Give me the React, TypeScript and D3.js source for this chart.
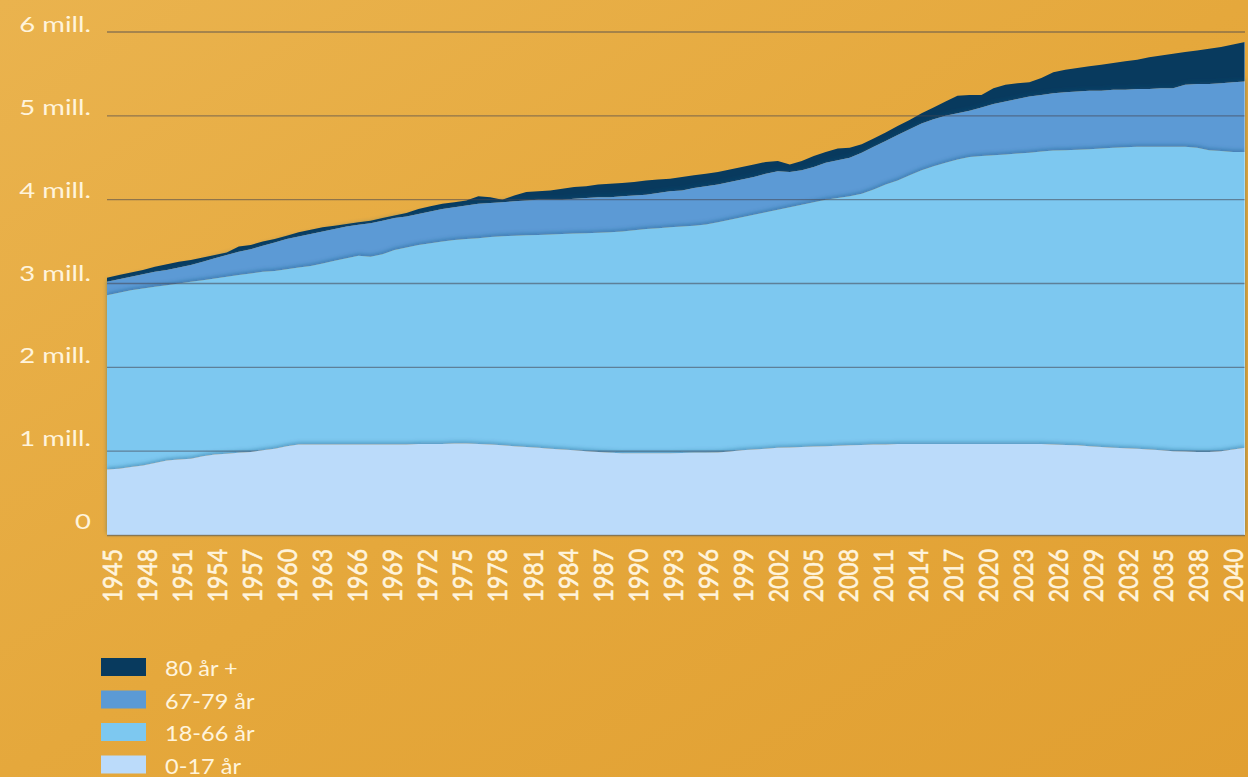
import React from "react";
import * as d3 from "d3";

// Years 1945–2040 (categories)
const years: number[] = d3.range(1945, 2041);

// Population by age group, thousands
const age0_17 = [
  780, 790, 810, 830, 860, 890, 900, 910, 940, 960,
  970, 980, 990, 1010, 1030, 1060, 1080, 1080, 1080, 1080,
  1080, 1080, 1080, 1080, 1080, 1080, 1085, 1085, 1085, 1090,
  1090, 1085, 1080, 1070, 1060, 1050, 1040, 1030, 1020, 1010,
  1000, 990, 980, 975, 975, 975, 975, 975, 978, 980,
  980, 985, 995, 1010, 1020, 1030, 1040, 1045, 1050, 1055,
  1060, 1065, 1070, 1075, 1080, 1080, 1085, 1085, 1085, 1085,
  1085, 1085, 1085, 1085, 1085, 1085, 1085, 1085, 1085, 1080,
  1075, 1070, 1060, 1050, 1040, 1035, 1030, 1020, 1010, 1000,
  995, 990, 990, 1000, 1020, 1040,
];
const age18_66 = [
  2080, 2100, 2110, 2110, 2100, 2090, 2100, 2110, 2100, 2100,
  2110, 2120, 2130, 2130, 2120, 2110, 2110, 2130, 2160, 2190,
  2220, 2250, 2240, 2270, 2320, 2350, 2375, 2395, 2415, 2430,
  2440, 2455, 2475, 2495, 2510, 2525, 2540, 2555, 2570, 2585,
  2600, 2615, 2630, 2645, 2660, 2675, 2685, 2695, 2702, 2710,
  2725, 2745, 2765, 2780, 2800, 2820, 2840, 2865, 2890, 2915,
  2940, 2955, 2970, 2995, 3040, 3100, 3145, 3205, 3265, 3315,
  3355, 3395, 3425, 3435, 3445, 3455, 3465, 3475, 3490, 3505,
  3515, 3525, 3540, 3560, 3580, 3590, 3600, 3610, 3620, 3630,
  3635, 3630, 3600, 3580, 3550, 3530,
];
const age67_79 = [
  160, 160, 160, 170, 180, 180, 190, 200, 220, 240,
  260, 280, 290, 310, 340, 360, 370, 380, 380, 380,
  380, 370, 400, 400, 380, 370, 370, 380, 390, 390,
  400, 410, 405, 405, 410, 415, 420, 415, 410, 415,
  420, 425, 420, 420, 415, 410, 420, 430, 430, 450,
  455, 450, 450, 450, 450, 460, 460, 420, 410, 420,
  440, 450, 460, 490, 510, 520, 540, 550, 560, 560,
  560, 550, 550, 580, 610, 630, 650, 670, 675, 685,
  690, 695, 700, 690, 690, 685, 690, 690, 700, 700,
  740, 760, 790, 810, 830, 840,
];
const age80plus = [
  50, 50, 50, 50, 60, 70, 70, 60, 50, 40,
  30, 60, 50, 50, 40, 40, 50, 50, 50, 40,
  30, 30, 30, 30, 30, 40, 60, 60, 60, 60,
  60, 90, 70, 30, 70, 100, 100, 110, 130, 140,
  140, 150, 160, 160, 160, 170, 160, 150, 160, 150,
  150, 150, 150, 150, 150, 140, 120, 90, 110, 130,
  130, 140, 120, 100, 100, 100, 110, 110, 120, 140,
  170, 210, 190, 150, 190, 200, 190, 170, 200, 250,
  270, 280, 290, 310, 320, 340, 350, 380, 390, 410,
  390, 400, 420, 430, 450, 470,
];

const seriesKeys = ["age0_17", "age18_66", "age67_79", "age80plus"];
const seriesNames = ["0-17 år", "18-66 år", "67-79 år", "80 år +"];
const seriesColors = ["#BBDBFA", "#7DC8F0", "#5B9AD5", "#083A5E"];

const yTicks = [0, 1000, 2000, 3000, 4000, 5000, 6000];
const yTickLabels = ["0", "1 mill.", "2 mill.", "3 mill.", "4 mill.", "5 mill.", "6 mill."];

const xTickLabels = [
  "1945", "1948", "1951", "1954", "1957", "1960", "1963", "1966", "1969",
  "1972", "1975", "1978", "1981", "1984", "1987", "1990", "1993", "1996",
  "1999", "2002", "2005", "2008", "2011", "2014", "2017", "2020", "2023",
  "2026", "2029", "2032", "2035", "2038", "2040",
];

export default function App() {
  const W = 1248;
  const H = 777;
  const x = d3.scaleLinear().domain([1945, 2040]).range([107, 1245]);
  const y = d3.scaleLinear().domain([0, 6000]).range([535, 32]);
  const yLab = d3.scaleLinear().domain([0, 6000]).range([529, 32]);
  const xLab = d3.scalePoint<string>().domain(xTickLabels).range([112, 1233]);

  const table = years.map((yr, i) => ({
    year: yr,
    age0_17: age0_17[i],
    age18_66: age18_66[i],
    age67_79: age67_79[i],
    age80plus: age80plus[i],
  }));
  const stacked = d3.stack<any>().keys(seriesKeys)(table);
  const area = d3
    .area<any>()
    .x((d) => x(d.data.year))
    .y0((d) => y(d[0]))
    .y1((d) => y(d[1]))
    .curve(d3.curveLinear);

  const textColor = "#FFF4DC";
  const font = "Lato, 'Open Sans', sans-serif";
  const legendOrder = [3, 2, 1, 0];

  return (
    <>
      <style>{`body{margin:0;} svg{display:block;}`}</style>
      <svg width={W} height={H} viewBox={`0 0 ${W} ${H}`}>
        <defs>
          <linearGradient id="bg" x1="0" y1="0" x2="1" y2="1">
            <stop offset="0" stopColor="#EAB34E" />
            <stop offset="0.5" stopColor="#E5A83C" />
            <stop offset="1" stopColor="#E19F31" />
          </linearGradient>
          <filter id="shUp" x="-5%" y="-30%" width="110%" height="160%">
            <feDropShadow dx="0" dy="-1.5" stdDeviation="2.2" floodColor="#1d4e78" floodOpacity="0.45" />
          </filter>
        </defs>
        <rect x={0} y={0} width={W} height={H} fill="url(#bg)" />

        {[3, 2, 1].map((k) => (
          <path
            key={seriesKeys[k]}
            d={area(stacked[k] as any) || ""}
            fill={seriesColors[k]}
            filter={k < 3 ? "url(#shUp)" : undefined}
          />
        ))}

        {yTicks.slice(1).map((t) => (
          <line
            key={t}
            x1={107}
            x2={1245}
            y1={y(t)}
            y2={y(t)}
            stroke="rgba(70,70,80,0.55)"
            strokeWidth={1.4}
          />
        ))}

        <path d={area(stacked[0] as any) || ""} fill={seriesColors[0]} filter="url(#shUp)" />

        <line x1={107} x2={1245} y1={y(0) + 0.5} y2={y(0) + 0.5} stroke="rgba(90,90,90,0.6)" strokeWidth={1.6} />
        <line x1={1244.5} x2={1244.5} y1={y(5880)} y2={y(0)} stroke="rgba(255,255,255,0.35)" strokeWidth={1} />

        {yTicks.map((t, i) => (
          <text
            key={t}
            transform={`translate(91,${yLab(t)}) scale(1.25,1)`}
            textAnchor="end"
            fontFamily={font}
            fontSize={22}
            fill={textColor}
          >
            {yTickLabels[i]}
          </text>
        ))}

        {xTickLabels.map((lab) => (
          <text
            key={lab}
            transform={`translate(${xLab(lab)},549) scale(1.15,1) rotate(-90)`}
            textAnchor="end"
            dominantBaseline="central"
            fontFamily={font}
            fontSize={23}
            fill={textColor}
            stroke={textColor}
            strokeWidth={0.5}
          >
            {lab}
          </text>
        ))}

        {legendOrder.map((k, i) => (
          <g key={seriesKeys[k]} transform={`translate(101,${658 + i * 32.5})`}>
            <rect x={0} y={0} width={45} height={18} fill={seriesColors[k]} />
            <text
              transform={`translate(64,18) scale(1.07,1)`}
              fontFamily={font}
              fontSize={22}
              fill={textColor}
            >
              {seriesNames[k]}
            </text>
          </g>
        ))}
      </svg>
    </>
  );
}
